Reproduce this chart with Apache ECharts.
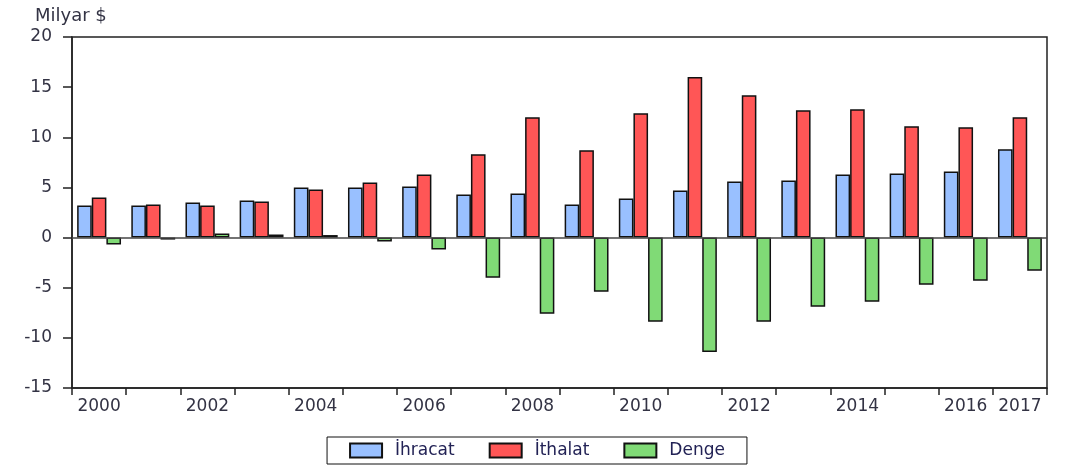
<!DOCTYPE html>
<html>
<head>
<meta charset="utf-8">
<script src="https://cdn.jsdelivr.net/npm/echarts@6/dist/echarts.min.js"></script>
<style>
  html, body { margin: 0; padding: 0; background: #fff; }
  #chart { width: 1074px; height: 469px; }
</style>
</head>
<body>
<div id="chart"></div>
<script>
// yıllar
const years = ['2000', '2001', '2002', '2003', '2004', '2005', '2006', '2007', '2008',
  '2009', '2010', '2011', '2012', '2013', '2014', '2015', '2016', '2017'];

// milyar $
const ihracat = [3.2, 3.2, 3.5, 3.7, 5.0, 5.0, 5.1, 4.3, 4.4, 3.3, 3.9, 4.7, 5.6, 5.7, 6.3, 6.4, 6.6, 8.8];
const ithalat = [4.0, 3.3, 3.2, 3.6, 4.8, 5.5, 6.3, 8.3, 12.0, 8.7, 12.4, 16.0, 14.2, 12.7, 12.8, 11.1, 11.0, 12.0];
const denge = [-0.7, -0.2, 0.4, 0.3, 0.25, -0.4, -1.2, -4.0, -7.6, -5.4, -8.4, -11.4, -8.4, -6.9, -6.4, -4.7, -4.3, -3.3];

const textColor = '#333344';
const font = 'DejaVu Sans';

const chart = echarts.init(document.getElementById('chart'));

const barSeries = (name, data, color) => ({
  name: name,
  type: 'bar',
  data: data,
  barGap: 0,
  barCategoryGap: '19%',
  itemStyle: {
    color: color,
    borderColor: '#111',
    borderWidth: 1.5
  }
});

const option = {
  animation: false,
  title: {
    text: 'Milyar $',
    left: 30,
    top: 2,
    textStyle: { fontFamily: font, fontSize: 18, fontWeight: 'normal', color: textColor }
  },
  grid: {
    left: 72,
    right: 27,
    top: 37,
    bottom: 81,
    show: true,
    borderColor: '#222',
    borderWidth: 1.5
  },
  legend: {
    bottom: 5,
    left: 'center',
    icon: 'rect',
    borderColor: '#111',
    borderWidth: 1,
    padding: [5, 22],
    itemWidth: 32,
    itemHeight: 14,
    itemGap: 34,
    textStyle: { fontFamily: font, fontSize: 17, color: '#222255', padding: [0, 0, 0, 8] },
    data: ['İhracat', 'İthalat', 'Denge']
  },
  xAxis: {
    type: 'category',
    data: years,
    axisLine: { onZero: false, lineStyle: { color: '#222', width: 1.5 } },
    axisTick: { show: true, interval: 0, length: 7, lineStyle: { color: '#222', width: 1.5 } },
    axisLabel: {
      interval: (i) => i % 2 === 0 || i === years.length - 1,
      margin: 10,
      fontFamily: font,
      fontSize: 17,
      color: textColor
    }
  },
  yAxis: {
    type: 'value',
    min: -15,
    max: 20,
    interval: 5,
    axisLine: { show: true, lineStyle: { color: '#222', width: 1.5 } },
    axisTick: { show: true, inside: false, length: 9, lineStyle: { color: '#222', width: 1.5 } },
    splitLine: { show: false },
    axisLabel: {
      margin: 20,
      fontFamily: font,
      fontSize: 17,
      color: textColor
    }
  },
  series: [
    Object.assign(barSeries('İhracat', ihracat, '#99c0ff'), {
      markLine: {
        silent: true,
        symbol: 'none',
        label: { show: false },
        lineStyle: { color: '#444', width: 1.5, type: 'solid' },
        data: [{ yAxis: 0 }]
      }
    }),
    barSeries('İthalat', ithalat, '#ff5656'),
    barSeries('Denge', denge, '#80da76')
  ]
};

chart.setOption(option);
</script>
</body>
</html>
